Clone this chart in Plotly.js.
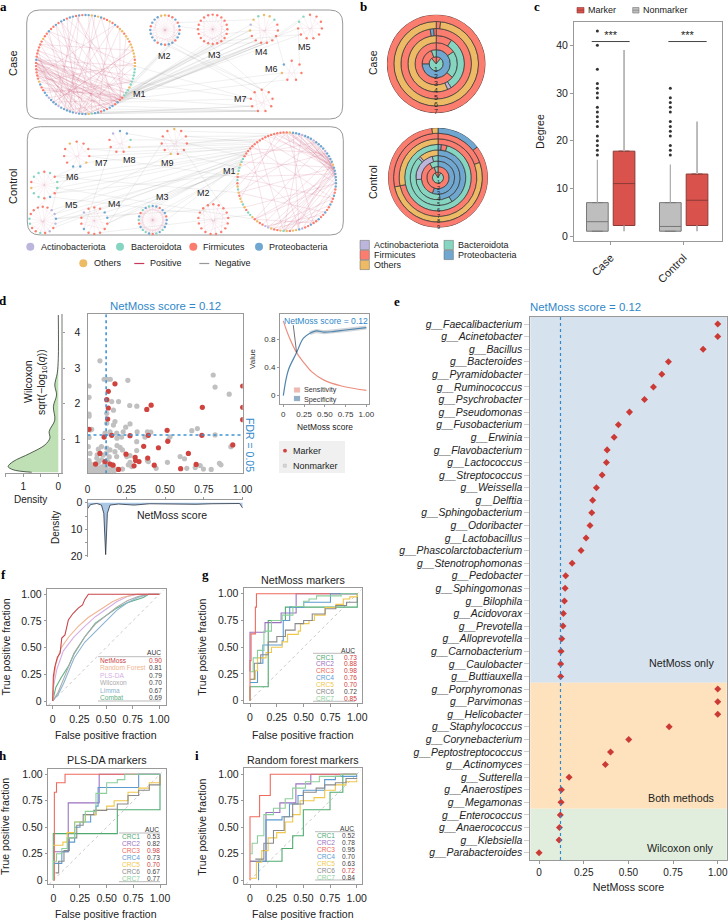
<!DOCTYPE html>
<html><head><meta charset="utf-8">
<script src="https://cdn.plot.ly/plotly-3.0.1.min.js"></script>
<style>html,body{margin:0;padding:0;background:#fff}#p{width:728px;height:921px}</style></head>
<body><div id="p"></div>
<script>
const W=728,H=921,FONT='"Liberation Sans",Arial,sans-serif',INK='#222';
const COL={A:'#bdb6dc',B:'#86d5c0',F:'#fb7d6f',P:'#70a7d0',O:'#edbb66'};
const RED='#d0443e',BLUE='#2f88c8';

/* panel a: network modules, node phyla clockwise from the top */
const caseModules=[
 {name:'M1',cx:85.5,cy:64.5,r:49.5,lx:139,ly:94,nodes:'PPOPOPFFOFPFOOFOOFOOOOOFOOBBBBBBOBBBFFPFPPFPFPPBOPPPAPPPPPAPPPAPPFFPOFFFFFFPFFFFFFOFFPFFPFPPFPPFPF'},
 {name:'M2',cx:165,cy:30,r:14.7,lx:164,ly:56,nodes:'OFFPFPFPPFPPFPFPPPPFPPPO'},
 {name:'M3',cx:212.7,cy:29.3,r:14.7,lx:214,ly:55,nodes:'FFFFFFFFFFFFFFFFFFFF'},
 {name:'M4',cx:264,cy:29,r:14,lx:261,ly:52,nodes:'OOBFFFFFFFFOAOB'},
 {name:'M5',cx:310,cy:26.7,r:12,lx:304,ly:47,nodes:'FFFFFFFFFBB'},
 {name:'M6',cx:291.7,cy:70.7,r:10,lx:271,ly:69,nodes:'FFFFFOP'},
 {name:'M7',cx:261.7,cy:100.7,r:11,lx:240,ly:99,nodes:'FFFFFFFFF'}];
const controlModules=[
 {name:'M1',cx:286.7,cy:181.7,r:49.3,lx:229,ly:171,nodes:'FOPPPAPPPAPPPPAPPPPOPPPPPPPFFPFFPFFPFFPFFPFFAPOOFOBOFFOAAFFOFOBBFOBOOFOBOFBFOBBOBBFFFFFFFFFFFFFFFF'},
 {name:'M2',cx:213.3,cy:219.3,r:15,lx:203,ly:193,nodes:'FFFFFFFFFFFFFFFFF'},
 {name:'M3',cx:152.7,cy:220,r:14,lx:162,ly:197,nodes:'PPFPPFPPPBPBFPBBPFBPFBPB'},
 {name:'M4',cx:94.3,cy:220.7,r:13.3,lx:114,ly:204,nodes:'FFPPFFFFFPFFAF'},
 {name:'M5',cx:42.7,cy:220,r:13.3,lx:71,ly:205,nodes:'FFAAPAFAFBFFBBFFF'},
 {name:'M6',cx:44.3,cy:185,r:13.3,lx:72,ly:177,nodes:'FBFBBFPFBBOFBB'},
 {name:'M7',cx:76.7,cy:154.3,r:12.7,lx:101,ly:163,nodes:'FFFFOPPFFFO'},
 {name:'M8',cx:120,cy:141.7,r:10.7,lx:129,ly:160,nodes:'PPBOFFFFA'},
 {name:'M9',cx:174.3,cy:141.7,r:12.7,lx:167,ly:163,nodes:'OFFFFFOFFFF'}];
const caseInner=[
 '37-74 37-72 37-78 37-70 36-75 38-73 36-66 37-60 38-55 36-52 39-50 35-48 37-90 36-85 38-95 35-5 37-12 74-40 74-45 74-50 74-55 75-34 75-30 73-42 72-47 76-52 77-38 78-60 70-38 71-42 52-92 53-88 55-85 50-80 48-84 54-96 51-3 56-2 47-70 46-76 58-10 60-20 62-30 52-25 55-18 50-12 95-35 2-40 8-45 15-37 20-60 25-75 30-80 5-55 10-70 92-30 85-25 80-20 88-42 82-36 68-38 65-35 64-30 45-90 43-82 40-66 42-74 44-72 33-75 31-78 28-74 24-68 18-52 22-50 96-60 90-50 99-47 94-58 37-76 38-76 36-74 39-72 40-74 34-72 52-76 53-74 54-72 50-70 73-48',
 '0-12 1-13 2-14 3-15 4-16 5-17 6-18 7-19 8-20 9-21 10-22 11-23 0-7 7-14 14-21 3-10 10-17 17-23 2-9 9-16 16-22 5-12',
 '0-10 1-11 2-12 3-13 4-14 5-15 6-16 7-17 8-18 9-19 0-6 6-12 12-18 3-9 9-15 2-8 8-14',
 '0-7 2-9 4-11 6-13 1-8 3-10 5-12 8-14',
 '0-5 1-6 2-7 3-8 4-9 5-10 0-3 6-9',
 '0-3 1-4 2-5 3-6 0-4',
 '0-4 1-5 2-6 3-7 4-8 0-3 5-8'];
const controlInner=[
 '0-20 1-21 2-22 3-19 98-18 96-20 99-23 4-24 5-20 6-21 7-18 8-22 95-20 92-19 94-17 90-25 20-55 21-52 22-50 23-48 19-53 18-46 24-44 17-57 25-60 26-42 28-50 30-55 32-52 34-50 36-56 38-54 0-40 2-45 5-50 10-70 15-75 12-60 86-30 80-20 75-22 70-20 65-25 60-22 85-15 82-10 78-5 72-98 68-95 60-40 55-85 50-88 45-92 30-75 35-70 40-80 1-19 3-21 5-18 9-20 7-23 10-21 12-22 14-24 97-22 93-21 20-50 21-48 22-54',
 '0-8 1-9 2-10 3-11 4-12 5-13 6-14 7-15 8-16 0-5 5-10 10-15 2-7',
 '0-12 1-13 2-14 3-15 4-16 5-17 6-18 7-19 8-20 9-21 10-22 11-23 0-6 6-12 12-18 18-0 3-9 9-15 15-21 21-3 1-7 7-13 13-19 19-1 2-8 8-14 14-20 20-2 4-10 10-16 16-22 22-4 5-11 11-17 17-23 23-5',
 '0-7 1-8 2-9 3-10 4-11 5-12 6-13 0-5 5-10',
 '0-8 1-9 2-10 3-11 4-12 5-13 6-14 7-15 8-16 0-4 4-8 8-12',
 '0-7 1-8 2-9 3-10 4-11 5-12 6-13 0-4',
 '0-5 1-6 2-7 3-8 4-9 5-10 0-3',
 '0-4 1-5 2-6 3-7 4-8',
 '0-5 1-6 2-7 3-8 4-9 5-10 0-3 6-9'];
const caseLinks='0.35-3.10 0.35-3.9 0.36-3.10 0.36-3.9 0.34-3.11 0.34-3.8 0.37-3.8 0.37-3.7 0.33-3.11 0.38-3.7 0.35-2.7 0.36-2.6 0.34-2.8 0.33-2.9 0.37-2.5 0.33-1.8 0.32-1.7 0.31-1.6 0.30-1.9 0.38-3.12 0.39-3.6 0.40-3.8 0.35-4.8 0.36-4.7 0.34-5.5 0.37-5.4 0.36-6.6 0.38-6.7 0.40-6.5 0.44-6.5 0.46-6.6 0.47-6.5 0.49-6.6 0.50-6.5 0.42-6.4 0.30-6.7 0.25-6.7 1.10-6.0 1.11-6.8 2.11-6.0 1.12-6.1 2.9-3.7 1.5-2.15 2.6-3.11 3.6-4.9 3.5-4.10 1.4-3.13 5.5-6.0 4.8-5.1 3.5-5.6 2.8-4.7';
const controlLinks='0.84-5.3 0.84-5.4 0.83-5.5 0.85-5.2 0.82-8.3 0.88-8.2 0.90-8.3 0.92-8.2 0.94-8.1 0.93-8.3 0.80-4.3 0.81-4.5 0.82-4.4 0.83-4.6 0.79-3.4 0.78-3.3 0.77-3.2 0.80-2.6 0.79-2.4 0.78-2.3 0.76-1.13 0.75-1.14 0.74-1.15 0.73-1.16 0.85-6.3 0.86-6.4 0.87-6.2 0.88-7.3 0.89-7.2 0.86-7.4 0.84-4.2 0.83-3.4 0.75-6.3 0.76-5.5 0.78-8.5 0.81-2.1 0.80-2.0 8.3-7.1 7.4-6.2 6.4-5.2 5.4-4.2 4.4-3.2 3.3-2.20 2.3-1.14 4.14-6.5 3.9-7.6 5.6-2.22 3.5-8.8 4.3-8.6 1.3-8.4 5.2-0.70 5.4-0.60 3.6-0.62 4.4-0.65';

/* panel b: rings from centre to edge, segments clockwise from the top as [phylum, degrees] */
const caseRings=[
 [['F',40],['B',280],['F',40]],
 [['P',270],['F',70],['B',20]],
 [['F',55],['B',75],['F',230]],
 [['F',33],['B',115],['A',8],['O',204]],
 [['F',350],['P',6],['F',4]],
 [['F',6],['O',354]],
 [['F',360]]];
const controlRings=[
 [['F',30],['B',300],['F',30]],
 [['F',340],['B',20]],
 [['P',200],['F',130],['B',30]],
 [['P',175],['B',90],['A',80],['B',15]],
 [['P',150],['B',165],['A',5],['O',40]],
 [['P',6],['F',10],['B',344]],
 [['F',258],['O',102]],
 [['F',70],['O',188],['F',102]],
 [['P',52],['F',301],['O',7]]];
const phylaLegend=[['A','Actinobacteriota'],['B','Bacteroidota'],['F','Firmicutes'],['P','Proteobacteria'],['O','Others']];

/* panel c: boxes */
const degreeGroups=['Case','Control'];
const nonmarkerBox={q1:[1,1],median:[3,2],q3:[7,7],upper:[16,15],lower:[1,1]};
const markerBox={q1:[2.2,2.2],median:[11,7.5],q3:[17.8,13],upper:[39,24],lower:[1,1]};
const caseOutliers=[17,18,19,20,21,23,24,25,26,27,29,30,31,32,35,40,43];
const controlOutliers=[17,18,19,21,22,23,24,26,27,28,29,31];

/* panel d: scatter */
const nonmarkerX=[.08,.107,.13,.147,.26,.81,.822,.913,.01,.01,.125,.156,.2,.167,.272,.318,.01,.01,.124,.124,.177,.167,.274,.246,.23,.113,.145,.188,.32,.386,.408,.672,.708,.822,.532,.52,.01,.016,.027,.22,.19,.37,.924,.317,.317,.19,.21,.225,.07,.09,.124,.145,.177,.188,.274,.253,.016,.005,.063,.597,.625,.515,.85,.86,.274,.263,.285,.386,.392,.442,.64,.694,.726,.747,.797,.225,.19,.167,.01,.02,.03,.04,.05,.06,.07,.08,.09,.1,.11,.02,.03,.05,.07,.09,.11,.12,.14,.15,.16,.17,.13,.14,.1,.06,.01,.12,.005,.015,.035,.045,.055,.075,.085,.095,.105,.008,.025];
const nonmarkerY=[3.21,2.69,2.69,2.69,2.66,2.81,2.47,2.27,2.5,2.18,2.1,2.06,2.06,1.82,1.95,1.93,1.71,1.65,1.73,1.45,1.5,1.4,1.43,1.34,1.21,1.17,1.21,1.17,1.21,1.21,1.2,1.24,1.3,1.12,1.07,.98,1.05,1.26,1.28,1.06,1.03,1.06,.79,.93,.68,.82,.77,.7,.72,.79,.75,.7,.65,.51,.54,.51,.6,.79,.56,.51,.45,.35,.32,.28,.35,.28,.23,.4,.37,.18,.18,.2,.26,.16,.15,.16,.15,.13,.1,.15,.08,.2,.12,.1,.18,.09,.22,.13,.07,.3,.25,.3,.35,.42,.3,.2,.1,.15,.28,.09,.37,.5,.55,.47,.4,.6,.07,.22,.13,.07,.24,.1,.15,.06,.17,.28,.06];
const markerX=[.177,.134,.124,.134,.41,.382,.74,.01,.107,.13,.274,.392,.513,.517,.737,.156,.362,.457,.65,.248,.307,.31,.332,.388,.43,.6,.7,.936,.08,.052,.113,.145,.165,.2,.3,1,1,1];
const markerY=[2.56,2.35,2.12,1.88,1.96,1.84,1.9,1.28,1.06,1.57,1.1,1.11,1.25,.94,1.11,1.11,.8,.76,.6,.58,.49,.4,.37,.47,.27,.17,.29,.84,.6,.3,.37,.3,.27,.15,.25,2.5,1.9,1.55];
const densityLeftX=[.76,1.29,1.43,1.29,.81,.38,.24,.26,.1,.14,.05,.1,.03,0,0];
const densityLeftY=[.07,.14,.23,.37,.6,.84,1.03,1.22,1.54,1.92,2.25,2.53,2.86,3.28,4.5];
const densityBottomX=[0,.02,.06,.09,.105,.117,.128,.145,.2,.3,.4,.5,.6,.7,.8,.9,.98,1];
const densityBottomY=[2.3,.7,.3,.9,4,19.5,4,.9,.5,.9,.4,.5,.7,.6,.4,.4,.3,2];
const scoreGrid=[0,.06,.16,.24,.34,.49,.7,1];
const sensitivity=[1.06,.86,.61,.48,.34,.22,.137,.075];
const specGrid=[0,.06,.16,.24,.32,.4,.49,.6,.75,1];
const specificity=[0,.36,.61,.81,.885,.917,.9,.908,.93,.965];

/* panel e */
const genera=['Faecalibacterium','Acinetobacter','Bacillus','Bacteroides','Pyramidobacter','Ruminococcus','Psychrobacter','Pseudomonas','Fusobacterium','Erwinia','Flavobacterium','Lactococcus','Streptococcus','Weissella','Delftia','Sphingobacterium','Odoribacter','Lactobacillus','Phascolarctobacterium','Stenotrophomonas','Pedobacter','Sphingomonas','Bilophila','Acidovorax','Prevotella','Alloprevotella','Carnobacterium','Caulobacter','Buttiauxella','Porphyromonas','Parvimonas','Helicobacter','Staphylococcus','Corynebacterium','Peptostreptococcus','Actinomyces','Sutterella','Anaerostipes','Megamonas','Enterococcus','Anaerococcus','Klebsiella','Parabacteroides'];
const genusScores=[1,1,.918,.724,.687,.64,.59,.506,.444,.42,.381,.377,.353,.321,.30,.295,.285,.263,.235,.185,.149,.146,.142,.136,.134,.127,.123,.121,.121,1,1,1,.728,.502,.40,.371,.168,.125,.123,.119,.114,.112,0];

/* ROC panels */
const rocF={
 NetMoss:[[0,0],[.006,.23],[.02,.32],[.044,.41],[.07,.45],[.085,.59],[.115,.62],[.147,.76],[.19,.82],[.24,.87],[.28,.9],[.3,.95],[.335,1],[1,1]],
 'Random Forest':[[0,0],[.01,.2],[.03,.35],[.08,.5],[.15,.6],[.24,.7],[.33,.78],[.47,.87],[.56,.93],[.65,.97],[.78,1],[1,1]],
 'PLS-DA':[[0,0],[.01,.15],[.04,.3],[.1,.47],[.2,.6],[.3,.7],[.4,.79],[.5,.86],[.6,.93],[.7,.98],[.8,1],[1,1]],
 Wilcoxon:[[0,0],[.05,.08],[.1,.2],[.2,.45],[.3,.6],[.4,.72],[.5,.8],[.6,.88],[.7,.94],[.8,.98],[.9,1],[1,1]],
 Limma:[[0,0],[.05,.06],[.1,.16],[.2,.4],[.3,.55],[.4,.65],[.5,.74],[.6,.85],[.7,.92],[.8,.97],[.9,1],[1,1]],
 Combat:[[0,0],[.03,.13],[.08,.22],[.15,.33],[.2,.44],[.3,.6],[.4,.73],[.5,.8],[.6,.87],[.7,.92],[.85,.97],[.9,1],[1,1]]};
const aucF=[['NetMoss','0.90','#c8454a','#d03a3a'],['Random Forest','0.81','#f0b592','#444'],['PLS-DA','0.79','#d5b0e4','#444'],['Wilcoxon','0.70','#aaa','#444'],['Limma','0.67','#8db4d0','#444'],['Combat','0.69','#5faf85','#444']];
const crcNames=['CRC1','CRC2','CRC3','CRC4','CRC5','CRC6','CRC7'];
const crcColors=['#4faa70','#9a72c0','#ee6a5c','#5c9bd0','#f0c84c','#8a8a8a','#8ccf9a'];
const rocG=[
 [[0,0],[0,.13],[.17,.13],[.17,.75],[.33,.75],[.33,.875],[1,.875],[1,1]],
 [[0,.27],[0,.64],[.14,.64],[.14,.73],[.29,.73],[.29,.82],[.43,.82],[.43,1],[1,1]],
 [[0,0],[0,.375],[.01,.625],[.05,.625],[.05,.875],[.06,1],[1,1]],
 [[0,.17],[.07,.17],[.07,.35],[.12,.35],[.12,.52],[.2,.52],[.3,.56],[.31,.75],[.37,.75],[.37,.875],[.5,.875],[.5,.92],[.75,.92],[.75,1],[1,1]],
 [[0,.2],[.05,.28],[.07,.4],[.15,.45],[.2,.5],[.3,.55],[.35,.62],[.45,.65],[.47,.72],[.55,.75],[.6,.8],[.7,.87],[.8,.9],[.87,.95],[.93,.97],[1,1]],
 [[0,.2],[.04,.35],[.1,.43],[.17,.55],[.25,.6],[.33,.66],[.42,.72],[.5,.75],[.58,.81],[.7,.86],[.8,.89],[.9,.92],[1,.97]],
 [[0,.27],[.03,.4],[.07,.47],[.13,.65],[.2,.75],[.3,.8],[.4,.88],[.5,.93],[.55,.95],[.62,.98],[.85,1],[1,1]]];
const rocH=[
 [[0,0],[0,.44],[.6,.44],[.6,.665],[1,.665],[1,1]],
 [[0,.27],[.14,.27],[.14,.73],[.43,.73],[.43,1],[1,1]],
 [[0,0],[.01,.25],[.01,.83],[.03,.92],[.11,.92],[.11,1],[1,1]],
 [[.01,.16],[.08,.16],[.08,.27],[.14,.27],[.14,.36],[.2,.36],[.2,.5],[.25,.55],[.35,.62],[.4,.7],[.42,.875],[.8,.875],[.8,1],[1,1]],
 [[0,.33],[.09,.36],[.13,.45],[.2,.55],[.3,.62],[.4,.66],[.5,.7],[.57,.75],[.7,.83],[.8,.87],[.9,.92],[1,.98]],
 [[.02,.07],[.05,.18],[.1,.28],[.15,.4],[.22,.52],[.28,.62],[.38,.66],[.5,.67],[.6,.72],[.7,.8],[.8,.85],[.9,.9],[1,1]],
 [[0,0],[0,.18],[.03,.25],[.08,.3],[.13,.4],[.2,.55],[.3,.65],[.4,.82],[.5,.92],[.6,.95],[.67,1],[1,1]]];
const rocI=[
 [[0,.18],[.14,.18],[.3,.3],[.4,.42],[.5,.5],[.5,.665],[.62,.665],[.75,.83],[.87,.83],[.87,1],[1,1]],
 [[0,.18],[.15,.18],[.15,.64],[.28,.64],[.28,.73],[.38,.73],[.43,.91],[.57,.91],[.57,1],[1,1]],
 [[0,0],[0,.6],[.09,.6],[.09,.8],[.17,.8],[.19,1],[1,1]],
 [[.08,0],[.08,.18],[.15,.27],[.15,.57],[.3,.6],[.37,.72],[.45,.8],[.5,.85],[.65,.85],[.7,.95],[.8,.98],[1,1]],
 [[0,.02],[.06,.02],[.06,.17],[.11,.28],[.17,.4],[.25,.45],[.33,.55],[.4,.62],[.47,.75],[.6,.78],[.7,.85],[.8,.9],[.9,.93],[1,.95]],
 [[.05,.2],[.13,.35],[.22,.47],[.32,.6],[.4,.72],[.5,.83],[.62,.87],[.7,.9],[.8,.92],[.9,.96],[1,.97]],
 [[0,.25],[.02,.35],[.07,.42],[.13,.62],[.22,.68],[.33,.77],[.4,.87],[.52,.93],[.65,.98],[.85,1],[1,1]]];
const aucG=['0.73','0.88','0.98','0.76','0.70','0.72','0.85'], aucGred=[1,1,1,1,1,0,1];
const aucH=['0.53','0.82','0.98','0.73','0.70','0.67','0.77'], aucHred=[0,0,1,0,1,0,0];
const aucI=['0.52','0.78','0.95','0.70','0.63','0.72','0.84'], aucIred=[0,0,0,0,0,1,0];

/* ---------- helpers ---------- */
const traces=[],annotations=[],shapes=[];
const layout={width:W,height:H,margin:{l:0,r:0,t:0,b:0},paper_bgcolor:'#fff',plot_bgcolor:'#fff',showlegend:false,
 boxmode:'overlay',font:{family:FONT,color:INK},annotations,shapes};
const px=v=>v/W, py=v=>1-v/H;
function txt(x,y,text,o={}){annotations.push({xref:'paper',yref:'paper',x:px(x),y:py(y),text,showarrow:false,
 xanchor:o.a||'left',yanchor:'middle',textangle:o.rot||0,borderpad:0,
 font:{family:o.family||FONT,size:o.size||9,color:o.color||INK,weight:o.weight}});}
function rect(x0,y0,x1,y1,fill,line,lw){shapes.push({type:'rect',xref:'paper',yref:'paper',x0:px(x0),x1:px(x1),y0:py(y0),y1:py(y1),fillcolor:fill,line:{color:line||fill,width:lw===undefined?0.6:lw},layer:'above'});}
function seg(x0,y0,x1,y1,color,w){shapes.push({type:'line',xref:'paper',yref:'paper',x0:px(x0),x1:px(x1),y0:py(y0),y1:py(y1),line:{color,width:w||1},layer:'above'});}
function dot(x,y,r,fill){shapes.push({type:'circle',xref:'paper',yref:'paper',x0:px(x-r),x1:px(x+r),y0:py(y+r),y1:py(y-r),fillcolor:fill,line:{width:0},layer:'above'});}
const axBase={showgrid:false,zeroline:false,showline:true,mirror:true,linecolor:'#999',linewidth:1,ticks:'outside',ticklen:3,tickcolor:'#999',tickwidth:1,tickfont:{family:FONT,size:10.5,color:INK},automargin:false};
function axes(n,xp,yp,xo,yo){const s=n===1?'':n;
 layout['xaxis'+s]=Object.assign({},axBase,{domain:[px(xp[0]),px(xp[1])],anchor:'y'+s},xo);
 layout['yaxis'+s]=Object.assign({},axBase,{domain:[py(yp[1]),py(yp[0])],anchor:'x'+s},yo);}
const sid=n=>({xaxis:'x'+(n===1?'':n),yaxis:'y'+(n===1?'':n),hoverinfo:'skip'});

/* ---------- panel a ---------- */
axes(1,[0,360],[0,280],{range:[0,360],visible:false},{range:[280,0],visible:false});
for(const [x0,y0,x1,y1] of [[26.7,10,342.7,119],[27.3,126.7,343.3,235]]){const r=13;
 shapes.push({type:'path',xref:'x',yref:'y',layer:'below',line:{color:'#999',width:1},
 path:`M${x0+r} ${y0}L${x1-r} ${y0}Q${x1} ${y0} ${x1} ${y0+r}L${x1} ${y1-r}Q${x1} ${y1} ${x1-r} ${y1}L${x0+r} ${y1}Q${x0} ${y1} ${x0} ${y1-r}L${x0} ${y0+r}Q${x0} ${y0} ${x0+r} ${y0}Z`});}
function nodePos(m,i){const a=2*Math.PI*(i%m.nodes.length)/m.nodes.length;return [m.cx+m.r*Math.sin(a),m.cy-m.r*Math.cos(a)];}
function drawNet(mods,inner,links){
 const ix=[],iy=[],sx=[],sy=[];
 inner.forEach((s,k)=>{const X=k===0?ix:sx,Y=k===0?iy:sy;s.split(' ').forEach(e=>{const [a,b]=e.split('-').map(Number);const p=nodePos(mods[k],a),q=nodePos(mods[k],b);X.push(p[0],q[0],null);Y.push(p[1],q[1],null);});});
 const gx=[],gy=[];
 links.split(' ').forEach(e=>{const [a,b]=e.split('-');const [m1,n1]=a.split('.').map(Number),[m2,n2]=b.split('.').map(Number);
  const p=nodePos(mods[m1],n1),q=nodePos(mods[m2],n2);gx.push(p[0],q[0],null);gy.push(p[1],q[1],null);});
 traces.push({type:'scatter',mode:'lines',x:gx,y:gy,line:{color:'rgba(130,130,130,.2)',width:.6},...sid(1)});
 traces.push({type:'scatter',mode:'lines',x:sx,y:sy,line:{color:'rgba(205,100,130,.18)',width:.5},...sid(1)});
 traces.push({type:'scatter',mode:'lines',x:ix,y:iy,line:{color:'rgba(200,90,120,.24)',width:.7},...sid(1)});
 const nx=[],ny=[],nc=[];
 mods.forEach(m=>{[...m.nodes].forEach((c,i)=>{const p=nodePos(m,i);nx.push(p[0]);ny.push(p[1]);nc.push(COL[c]);});
  txt(m.lx,m.ly,m.name,{a:'center',size:9});});
 traces.push({type:'scatter',mode:'markers',x:nx,y:ny,marker:{size:2.4,color:nc,line:{width:0}},...sid(1)});
}
drawNet(caseModules,caseInner,caseLinks);
drawNet(controlModules,controlInner,controlLinks);
txt(13,63,'Case',{a:'center',rot:-90,size:11});
txt(13,187,'Control',{a:'center',rot:-90,size:11});
const legendA=[['A',30.3,40,246.7],['B',120,129.7,246.7],['F',193.3,202.3,246.7],['P',259,267.7,246.7],['O',83.3,92.7,263.3]];
legendA.forEach(([k,cx,tx,y])=>{dot(cx,y,4,COL[k]);txt(tx,y,phylaLegend.find(p=>p[0]===k)[1],{size:9});});
seg(134.3,263.5,144.3,263.5,'#c8385a',1.2);txt(149.3,263.3,'Positive',{size:9});
seg(199.3,263.5,209.3,263.5,'#999',1.2);txt(214.3,263.3,'Negative',{size:9});

/* ---------- panel b ---------- */
function donut(id,rings,cx,cy,R,fs){
 const r=[],base=[],theta=[],width=[],colors=[];
 rings.forEach((ring,k)=>{let a=0;ring.forEach(([c,d])=>{r.push(1);base.push(k);theta.push(a+d/2);width.push(d);colors.push(COL[c]);a+=d;});
  txt(cx,cy+R*(k+.82)/rings.length,String(k+1),{a:'center',size:fs,color:'#222'});});
 traces.push({type:'barpolar',subplot:id,r,base,theta,width,marker:{color:colors,line:{color:'#333',width:.7}},hoverinfo:'skip'});
 layout[id]={domain:{x:[px(cx-R),px(cx+R)],y:[py(cy+R),py(cy-R)]},bgcolor:'rgba(0,0,0,0)',
  radialaxis:{visible:false,range:[0,rings.length]},angularaxis:{visible:false,direction:'clockwise',rotation:90}};
}
donut('polar',caseRings,436.2,63.8,49.4,7);
donut('polar2',controlRings,438,177.7,50,5.6);
txt(373,62,'Case',{a:'center',rot:-90,size:10.5});
txt(373,182,'Control',{a:'center',rot:-90,size:10.5});
[['A',360,245],['F',360,255],['O',360,265],['B',444,245],['P',444,255]].forEach(([k,x,y])=>{
 rect(x,y-4.6,x+9.4,y+4.6,COL[k],'#666',.5);txt(x+12.6,y,phylaLegend.find(p=>p[0]===k)[1],{size:9});});

/* ---------- panel c ---------- */
axes(2,[574,722],[22,241],{range:[-.503,1.525],tickmode:'array',tickvals:[0,1],ticktext:degreeGroups,tickangle:-45,ticklabelstandoff:2,tickfont:{family:FONT,size:11,color:INK}},
 {range:[-1.05,44.9],tickmode:'array',tickvals:[0,10,20,30,40]});
txt(540,131.7,'Degree',{a:'center',rot:-90,size:10.5});
const off=.183;
function boxes(b,dx,fill,lineC,wc,ww){
 [0,1].forEach(i=>{
  traces.push({type:'scatter',mode:'lines',x:[i+dx,i+dx],y:[b.q3[i],b.upper[i]],line:{color:wc,width:ww},...sid(2)});
  traces.push({type:'scatter',mode:'lines',x:[i+dx,i+dx],y:[b.lower[i],b.q1[i]],line:{color:wc,width:ww},...sid(2)});
  traces.push({type:'box',x:[i+dx],q1:[b.q1[i]],median:[b.median[i]],q3:[b.q3[i]],lowerfence:[b.q1[i]],upperfence:[b.q3[i]],width:.297,boxpoints:false,
   fillcolor:fill,line:{color:lineC,width:1},...sid(2)});
 });}
boxes(nonmarkerBox,-off,'#bebebe','#777','#aaa',1.2);
boxes(markerBox,off,'#d9534c','#8a3a36','#b5b5b5',1.8);
traces.push({type:'scatter',mode:'markers',x:caseOutliers.map(()=>-off),y:caseOutliers,marker:{size:3,color:'#333'},...sid(2)});
traces.push({type:'scatter',mode:'markers',x:controlOutliers.map(()=>1-off),y:controlOutliers,marker:{size:3,color:'#333'},...sid(2)});
traces.push({type:'scatter',mode:'lines',x:[-.26,.26,null,.79,1.315],y:[40.8,40.8,null,40.8,40.8],line:{color:'#444',width:1},...sid(2)});
traces.push({type:'scatter',mode:'text',x:[0,1.05],y:[41.9,41.9],text:['***','***'],textfont:{size:11,color:INK,family:FONT},...sid(2)});
rect(577,7.5,584,13,'#d9534c','#8a3a36',.6);seg(577,10.2,584,10.2,'#8a3a36',.6);txt(586.7,10,'Marker',{size:9});
rect(632.7,7.5,639,13,'#bebebe','#777',.6);seg(632.7,10.2,639,10.2,'#777',.6);txt(641.7,10,'Nonmarker',{size:9});

/* ---------- panel d ---------- */
const dX=[87.5,242.7],dY=[314.3,473.3];
const hidden='rgba(0,0,0,0)';
axes(3,dX,dY,{range:[0,1],tickmode:'array',tickvals:[0,.25,.5,.75,1],ticktext:['0','0.25','0.50','0.75','1.00'],ticklen:4,tickcolor:hidden,ticklabelstandoff:3,tickfont:{size:10,family:FONT,color:INK}},
 {range:[.04,4.52],tickmode:'array',tickvals:[1,2,3,4],ticklen:4,tickcolor:hidden});
traces.push({type:'scatter',mode:'markers',x:nonmarkerX,y:nonmarkerY,marker:{size:5.2,color:'#c0c0c0'},...sid(3)});
traces.push({type:'scatter',mode:'markers',x:markerX,y:markerY,marker:{size:5.2,color:'#cf423d'},...sid(3)});
traces.push({type:'scatter',mode:'lines',x:[.12,.12],y:[.04,4.52],line:{color:'#3f94d4',width:1.6,dash:'dot'},...sid(3)});
traces.push({type:'scatter',mode:'lines',x:[0,1],y:[1.12,1.12],line:{color:'#3f94d4',width:1.6,dash:'dot'},...sid(3)});
txt(165.7,305.7,'NetMoss score = 0.12',{a:'center',size:11.4,color:BLUE});
txt(250,445,'FDR = 0.05',{a:'center',rot:90,size:10.5,color:BLUE});
// left density
axes(4,[5,61],dY,{range:[1.52,-.077],mirror:false,tickmode:'array',tickvals:[1,0],ticktext:['1','0'],ticklabelstandoff:1,minor:{tickmode:'array',tickvals:[1.5,.5],ticks:'outside',ticklen:3,tickcolor:'#999'},tickfont:{size:10,family:FONT,color:INK}},
 {range:[.04,4.52],side:'right',mirror:false,showticklabels:false,tickmode:'array',tickvals:[1,2,3,4],linecolor:'#bbb',linewidth:2,ticklen:2});
traces.push({type:'scatter',mode:'lines',x:densityLeftX,y:densityLeftY,fill:'tozerox',fillcolor:'#bfe0b4',line:{color:'#2c3a2c',width:.8,shape:'spline'},...sid(4)});
txt(28,382,'Wilcoxon',{a:'center',rot:-90,size:10.5});
txt(42,382,'sqrt(−log<sub>10</sub>(<i>q</i>))',{a:'center',rot:-90,size:10.5});
txt(30.7,499,'Density',{a:'center',size:10});
// bottom density
axes(5,dX,[499.5,557],{range:[0,1],side:'top',mirror:false,showticklabels:false,tickmode:'array',tickvals:[.25,.5,.75,1],ticklen:2},
 {range:[20.4,-1.2],mirror:false,tickmode:'array',tickvals:[0,10,20],ticktext:['0','10','20'],minor:{tickmode:'array',tickvals:[5,15],ticks:'outside',ticklen:2,tickcolor:'#999'},ticklen:2});
traces.push({type:'scatter',mode:'lines',x:densityBottomX,y:densityBottomY,fill:'tozeroy',fillcolor:'#aac7e6',line:{color:'#2a3340',width:.8},...sid(5)});
txt(172,515,'NetMoss score',{a:'center',size:10.5});
txt(55,528,'Density',{a:'center',rot:-90,size:10});
// inset
axes(6,[280,369],[314,404],{range:[-.04,1.032],tickmode:'array',tickvals:[0,.25,.5,.75,1],ticktext:['0','0.25','0.50','0.75','1.00'],ticklen:2,tickfont:{size:8,family:FONT,color:'#333'}},
 {range:[-.118,1.157],tickmode:'array',tickvals:[0,.4,.8],ticktext:['0','0.4','0.8'],ticklen:2,tickfont:{size:8,family:FONT,color:'#333'}});
traces.push({type:'scatter',mode:'lines',x:specGrid.slice(4),y:specificity.slice(4),line:{color:'rgba(150,160,170,.45)',width:4},...sid(6)});
traces.push({type:'scatter',mode:'lines',x:scoreGrid,y:sensitivity,line:{color:'#ec8f7f',width:1.2,shape:'spline'},...sid(6)});
traces.push({type:'scatter',mode:'lines',x:specGrid,y:specificity,line:{color:'#4f86ae',width:1.2,shape:'spline'},...sid(6)});
traces.push({type:'scatter',mode:'lines',x:[.12,.16],y:[1.0,.61],line:{color:'#333',width:.7},...sid(6)});
txt(326,321,'NetMoss score = 0.12',{a:'center',size:8.6,color:BLUE});
rect(294,387.5,300,392.5,'#efb9b0','#ddd',.3);txt(303,390,'Sensitivity',{size:7.2,color:'#333'});
rect(294,396,300,401,'#8fb0c8','#bbb',.3);txt(303,399,'Specificity',{size:7.2,color:'#333'});
txt(253,359,'Value',{a:'center',rot:-90,size:8,color:'#333'});
txt(325,427,'NetMoss score',{a:'center',size:8.4});
shapes.push({type:'rect',xref:'paper',yref:'paper',x0:px(279),x1:px(345),y0:py(441),y1:py(473),fillcolor:'#f0f0f0',line:{width:0},layer:'below'});
dot(285,450.7,1.9,'#cf423d');txt(291.7,450.7,'Marker',{size:9});
rect(283.3,464.2,286.3,467.2,'#d8d8d8','#aaa',.4);txt(291.7,465.7,'Nonmarker',{size:9});

/* ---------- panel e ---------- */
const genusLabels=genera.map(g=>'g__'+g);
axes(7,[530.3,726.7],[316.7,860],{range:[-.049,1.05],tickmode:'array',tickvals:[0,.25,.5,.75,1],ticktext:['0','0.25','0.50','0.75','1.00'],tickfont:{size:10,family:FONT,color:INK},
  title:{text:'NetMoss score',font:{size:10.7,family:FONT,color:INK},standoff:6}},
 {type:'category',categoryorder:'array',categoryarray:genusLabels,range:[42.58,-.58],tickmode:'array',tickvals:genusLabels,ticktext:genusLabels,ticklen:5,tickcolor:'#ccc',tickfont:{size:10.4,family:FONT,color:INK,style:'italic'}});
[[-.58,28.5,'#d6e2ed'],[28.5,38.5,'#fde2bd'],[38.5,42.58,'#e1eedd']].forEach(([a,b,c])=>shapes.push({type:'rect',xref:'x7 domain',x0:0,x1:1,yref:'y7',y0:a,y1:b,fillcolor:c,line:{width:0},layer:'below'}));
shapes.push({type:'line',xref:'x7',x0:.12,x1:.12,yref:'y7 domain',y0:0,y1:1,line:{color:'#2d8ad0',width:1.2,dash:'dot'},layer:'above'});
traces.push({type:'scatter',mode:'markers',x:genusScores,y:genusLabels,marker:{symbol:'diamond',size:5.4,color:'#cc3a36'},...sid(7)});
txt(585,307.5,'NetMoss score = 0.12',{a:'center',size:11.4,color:BLUE});
txt(715,663,'NetMoss only',{a:'right',size:10.7});
txt(715,797.7,'Both methods',{a:'right',size:10.7});
txt(715,848,'Wilcoxon only',{a:'right',size:10.7});

/* ---------- ROC panels ---------- */
const fracVals=[0,.25,.5,.75,1],fracText=['0','0.25','0.50','0.75','1.00'];
function rocAxes(n,fr,x01,y01){
 const ux=(x01[1]-x01[0]),uy=(y01[1]-y01[0]);
 axes(n,[fr[0],fr[1]],[fr[2],fr[3]],
  {range:[(fr[0]-x01[0])/ux,(fr[1]-x01[0])/ux],tickmode:'array',tickvals:fracVals,ticktext:fracText,ticklen:2.5,ticklabelstandoff:2},
  {range:[(fr[3]-y01[0])/uy,(fr[2]-y01[0])/uy],tickmode:'array',tickvals:fracVals,ticktext:fracText,ticklen:2.5});
 traces.push({type:'scatter',mode:'lines',x:[-.04,1.04],y:[-.04,1.04],line:{color:'#bbb',width:.8,dash:'3px,3px'},...sid(n)});
}
function rocCurve(n,pts,color,shape){traces.push({type:'scatter',mode:'lines',x:pts.map(p=>p[0]),y:pts.map(p=>p[1]),line:{color,width:1.1,shape:shape||'linear'},...sid(n)});}
// f
rocAxes(8,[47.3,165.7,589.3,705],[52.7,159.3],[701,594.3]);
aucF.slice().reverse().forEach(a=>rocCurve(8,rocF[a[0]],a[2]));
txt(154,652.5,'AUC',{a:'center',size:6.6,color:'#333'});
seg(98,656.7,160.7,656.7,'#aaa',.8);seg(98,701,160.7,701,'#aaa',.8);
[660.3,667.7,675,682.7,690,697].forEach((y,i)=>{txt(99.3,y,aucF[i][0],{size:6.6,color:aucF[i][2]});txt(148.3,y,aucF[i][1],{size:6.6,color:aucF[i][3]});});
txt(106,735,'False positive fraction',{a:'center',size:10.5});
txt(5,647.5,'True positive fraction',{a:'center',rot:-90,size:10.5});
// g,h,i
function crcPanel(n,fr,x01,y01,curves,vals,reds,tb){
 rocAxes(n,fr,x01,y01);
 curves.forEach((c,i)=>rocCurve(n,c,crcColors[i],'hv'));
 txt(tb.ax,tb.ay,'AUC',{a:'center',size:6.6,color:'#333'});
 seg(tb.x0,tb.ly,tb.x1,tb.ly,'#aaa',.8);seg(tb.x0,tb.by,tb.x1,tb.by,'#aaa',.8);
 tb.rows.forEach((y,i)=>{txt(tb.nx,y,crcNames[i],{size:6.6,color:crcColors[i]});txt(tb.vx,y,vals[i],{size:6.6,color:reds[i]?'#d03a3a':'#444'});});
}
crcPanel(9,[244,361.7,588.3,703.3],[250,357.3],[700.7,593.7],rocG,aucG,aucGred,
 {ax:348.3,ay:650,x0:313,x1:355,ly:653.3,by:701.3,nx:315,vx:342.7,rows:[657,663.7,670.7,677.7,684.7,691.7,698.7]});
txt(303.3,580,'NetMoss markers',{a:'center',size:10.7});
txt(303.3,735,'False positive fraction',{a:'center',size:10.5});
txt(201.7,647,'True positive fraction',{a:'center',rot:-90,size:10.5});
crcPanel(10,[48.3,165.7,769,884.3],[53.3,160],[880.3,774.3],rocH,aucH,aucHred,
 {ax:152.3,ay:829,x0:119,x1:160,ly:833,by:881.7,nx:120.7,vx:145.7,rows:[836.3,843.3,850,857,864,871,878]});
txt(106.7,760,'PLS-DA markers',{a:'center',size:10.7});
txt(106,914,'False positive fraction',{a:'center',size:10.5});
txt(5,827,'True positive fraction',{a:'center',rot:-90,size:10.5});
crcPanel(11,[244.3,361.7,768.3,884.3],[250,356.7],[880.3,774.3],rocI,aucI,aucIred,
 {ax:347.3,ay:828.3,x0:315,x1:355,ly:831.7,by:880,nx:316,vx:341,rows:[835.3,842.3,849.3,856.3,863.3,870,877]});
txt(303.3,760,'Random forest markers',{a:'center',size:10.7});
txt(303.3,914,'False positive fraction',{a:'center',size:10.5});
txt(201.7,827,'True positive fraction',{a:'center',rot:-90,size:10.5});

/* panel letters */
[['a',3,6],['b',363,6],['c',537,6],['d',3,301],['e',397,302],['f',3,574],['g',205,574],['h',3,755],['i',197,755]].forEach(([t,x,y])=>
 txt(x,y,t,{a:'center',size:13,family:'"Liberation Serif",serif',weight:700,color:'#000'}));

Plotly.newPlot('p',traces,layout,{displayModeBar:false,staticPlot:true});
</script></body></html>
